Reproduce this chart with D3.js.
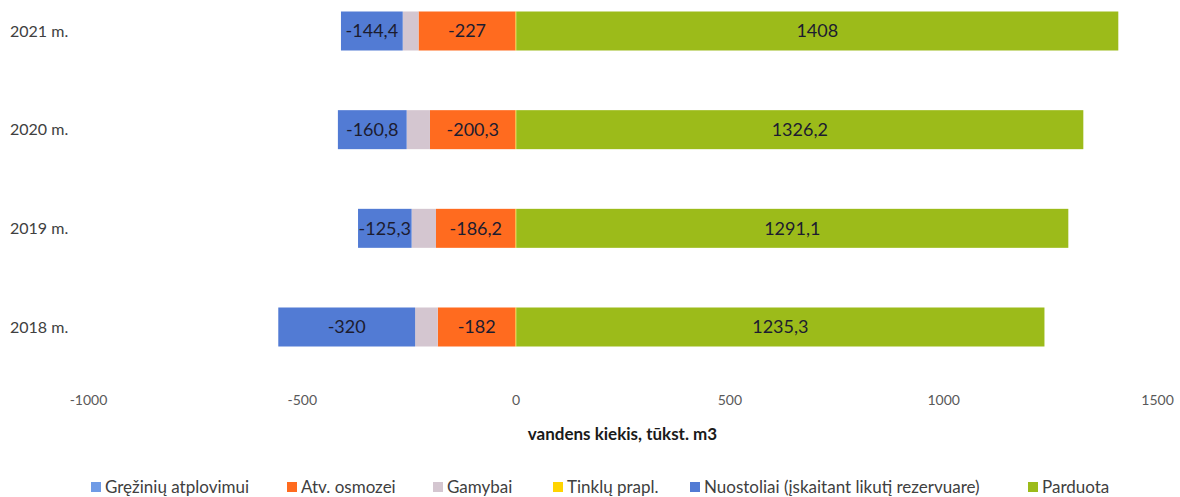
<!DOCTYPE html>
<html>
<head>
<meta charset="utf-8">
<script src="https://cdnjs.cloudflare.com/ajax/libs/d3/7.8.5/d3.min.js"></script>
<style>
	body { margin: 0; background: #fff; }
	svg { font-family: Lato, "Open Sans", sans-serif; }
</style>
</head>
<body>
<svg id="chart" width="1180" height="497"></svg>
<script>
"use strict";

// years, bottom to top as in the picture
var years = ["2018 m.", "2019 m.", "2020 m.", "2021 m."];

// series values, tūkst. m3
var greziniuAtplovimui = [0, 0, 0, 0];
var atvOsmozei = [-182, -186.2, -200.3, -227];
var gamybai = [-53, -57, -54.5, -37];
var tinkluPrapl = [1.5, 1.5, 1.5, 1.5];
var nuostoliai = [-320, -125.3, -160.8, -144.4];
var parduota = [1235.3, 1291.1, 1326.2, 1408];

var tickValues = [-1000, -500, 0, 500, 1000, 1500];
var axisTitle = "vandens kiekis, tūkst. m3";

var seriesInfo = [
	{key: "greziniu", name: "Gręžinių atplovimui", values: greziniuAtplovimui, color: "#6f9be6", label: false},
	{key: "osmozei", name: "Atv. osmozei", values: atvOsmozei, color: "#ff6b1f", label: true},
	{key: "gamybai", name: "Gamybai", values: gamybai, color: "#d4c6d0", label: false},
	{key: "tinklu", name: "Tinklų prapl.", values: tinkluPrapl, color: "#ffd400", label: false},
	{key: "nuostoliai", name: "Nuostoliai (įskaitant likutį rezervuare)", values: nuostoliai, color: "#527bd4", label: true},
	{key: "parduota", name: "Parduota", values: parduota, color: "#9cbb1a", label: true}
];

// table for d3.stack
var table = years.map(function(y, i) {
	var row = {year: y};
	seriesInfo.forEach(function(s) { row[s.key] = s.values[i]; });
	return row;
});

var stacked = d3.stack()
	.keys(seriesInfo.map(function(s) { return s.key; }))
	.offset(d3.stackOffsetDiverging)(table);

var svg = d3.select("#chart");

var x = d3.scaleLinear().domain([-1000, 1500]).range([88, 1157]);
var y = d3.scalePoint().domain(years.slice().reverse()).range([31, 327]);
var barH = 39;

// bars
var layers = svg.append("g").selectAll("g")
	.data(stacked)
	.enter().append("g")
	.attr("fill", function(d, i) { return seriesInfo[i].color; });

layers.selectAll("rect")
	.data(function(d) { return d; })
	.enter().append("rect")
	.attr("x", function(d) { return x(Math.min(d[0], d[1])); })
	.attr("width", function(d) { return Math.abs(x(d[1]) - x(d[0])); })
	.attr("y", function(d) { return y(d.data.year) - barH / 2; })
	.attr("height", barH);

// data labels
layers.filter(function(d, i) { return seriesInfo[i].label; })
	.selectAll("text")
	.data(function(d) { return d.map(function(p) { p.key = d.key; return p; }); })
	.enter().append("text")
	.attr("x", function(d) { return (x(d[0]) + x(d[1])) / 2; })
	.attr("y", function(d) { return y(d.data.year); })
	.attr("dy", "0.36em")
	.attr("text-anchor", "middle")
	.attr("fill", "#1c1c30")
	.style("font-size", "18px")
	.text(function(d) { return String(d.data[d.key]).replace(".", ","); });

// category labels
svg.append("g").selectAll("text")
	.data(years)
	.enter().append("text")
	.attr("x", 10)
	.attr("y", function(d) { return y(d); })
	.attr("dy", "0.36em")
	.attr("fill", "#404040")
	.style("font-size", "16px")
	.text(function(d) { return d; });

// x axis (labels only)
var xAxis = svg.append("g")
	.attr("transform", "translate(0,392)")
	.call(d3.axisBottom(x).tickValues(tickValues).tickSize(0).tickFormat(function(d) { return String(d); }));
xAxis.select(".domain").remove();
xAxis.selectAll("text")
	.attr("fill", "#595959")
	.style("font-size", "14px")
	.style("font-family", "Lato, sans-serif");

svg.append("text")
	.attr("x", (x.range()[0] + x.range()[1]) / 2)
	.attr("y", 440)
	.attr("text-anchor", "middle")
	.attr("fill", "#1a1a1a")
	.style("font-size", "17px")
	.style("font-weight", "bold")
	.text(axisTitle);

// legend
var legendX = [91, 287, 433, 553, 690, 1028];
var legend = svg.append("g").selectAll("g")
	.data(seriesInfo)
	.enter().append("g")
	.attr("transform", function(d, i) { return "translate(" + legendX[i] + ",487)"; });
legend.append("rect")
	.attr("x", 0)
	.attr("y", -5)
	.attr("width", 10)
	.attr("height", 10)
	.attr("fill", function(d) { return d.color; });
legend.append("text")
	.attr("x", 14)
	.attr("dy", "0.36em")
	.attr("fill", "#404040")
	.style("font-size", "17px")
	.text(function(d) { return d.name; });
</script>
</body>
</html>
